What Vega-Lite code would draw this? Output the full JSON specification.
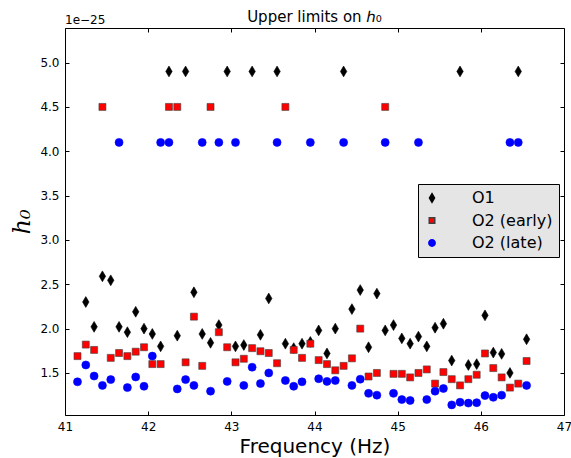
{
"$schema": "https://vega.github.io/schema/vega-lite/v6.json",
"width": 499, "height": 387,
"autosize": "none",
"padding": {"left": 65, "top": 28, "right": 7, "bottom": 43},
"background": "white",
"title": {"text": "Upper limits on ℎ₀", "font": "DejaVu Sans", "fontSize": 15, "fontWeight": "normal", "color": "#000000", "anchor": "middle", "offset": 7, "dy": 30, "baseline": "alphabetic"},
"config": {
  "view": {"stroke": null},
  "axis": {"domainColor": "#000000", "domainWidth": 1, "tickColor": "#000000", "tickWidth": 1, "grid": false, "labelFont": "DejaVu Sans", "labelFontSize": 12, "labelColor": "#000000", "labelOverlap": false, "labelFlush": false, "labelBound": false}
},
"data": {"values": [
{"f":41.25,"h":2.30,"s":"O1"},{"f":41.35,"h":2.02,"s":"O1"},{"f":41.45,"h":2.59,"s":"O1"},{"f":41.55,"h":2.545,"s":"O1"},{"f":41.65,"h":2.02,"s":"O1"},{"f":41.75,"h":1.96,"s":"O1"},{"f":41.85,"h":2.19,"s":"O1"},{"f":41.95,"h":2.00,"s":"O1"},{"f":42.05,"h":1.94,"s":"O1"},{"f":42.15,"h":1.80,"s":"O1"},{"f":42.25,"h":4.9,"s":"O1"},{"f":42.35,"h":1.92,"s":"O1"},{"f":42.45,"h":4.9,"s":"O1"},{"f":42.55,"h":2.41,"s":"O1"},{"f":42.65,"h":1.94,"s":"O1"},{"f":42.75,"h":1.84,"s":"O1"},{"f":42.85,"h":2.04,"s":"O1"},{"f":42.95,"h":4.9,"s":"O1"},{"f":43.05,"h":1.80,"s":"O1"},{"f":43.15,"h":1.815,"s":"O1"},{"f":43.25,"h":4.9,"s":"O1"},{"f":43.35,"h":1.93,"s":"O1"},{"f":43.45,"h":2.34,"s":"O1"},{"f":43.55,"h":4.9,"s":"O1"},{"f":43.65,"h":1.83,"s":"O1"},{"f":43.75,"h":1.78,"s":"O1"},{"f":43.85,"h":1.83,"s":"O1"},{"f":43.95,"h":1.85,"s":"O1"},{"f":44.05,"h":1.98,"s":"O1"},{"f":44.15,"h":1.72,"s":"O1"},{"f":44.25,"h":2.00,"s":"O1"},{"f":44.35,"h":4.9,"s":"O1"},{"f":44.45,"h":2.22,"s":"O1"},{"f":44.55,"h":2.435,"s":"O1"},{"f":44.65,"h":1.79,"s":"O1"},{"f":44.75,"h":2.395,"s":"O1"},{"f":44.85,"h":1.98,"s":"O1"},{"f":44.95,"h":2.04,"s":"O1"},{"f":45.05,"h":1.89,"s":"O1"},{"f":45.15,"h":1.83,"s":"O1"},{"f":45.25,"h":1.91,"s":"O1"},{"f":45.35,"h":1.80,"s":"O1"},{"f":45.45,"h":2.01,"s":"O1"},{"f":45.55,"h":2.055,"s":"O1"},{"f":45.65,"h":1.64,"s":"O1"},{"f":45.75,"h":4.9,"s":"O1"},{"f":45.85,"h":1.59,"s":"O1"},{"f":45.95,"h":1.60,"s":"O1"},{"f":46.05,"h":2.15,"s":"O1"},{"f":46.15,"h":1.73,"s":"O1"},{"f":46.25,"h":1.715,"s":"O1"},{"f":46.35,"h":1.50,"s":"O1"},{"f":46.45,"h":4.9,"s":"O1"},{"f":46.55,"h":1.88,"s":"O1"},
{"f":41.15,"h":1.69,"s":"O2 (early)"},{"f":41.25,"h":1.82,"s":"O2 (early)"},{"f":41.35,"h":1.76,"s":"O2 (early)"},{"f":41.45,"h":4.5,"s":"O2 (early)"},{"f":41.55,"h":1.67,"s":"O2 (early)"},{"f":41.65,"h":1.725,"s":"O2 (early)"},{"f":41.75,"h":1.69,"s":"O2 (early)"},{"f":41.85,"h":1.74,"s":"O2 (early)"},{"f":41.95,"h":1.79,"s":"O2 (early)"},{"f":42.05,"h":1.60,"s":"O2 (early)"},{"f":42.15,"h":1.60,"s":"O2 (early)"},{"f":42.25,"h":4.5,"s":"O2 (early)"},{"f":42.35,"h":4.5,"s":"O2 (early)"},{"f":42.45,"h":1.62,"s":"O2 (early)"},{"f":42.55,"h":2.135,"s":"O2 (early)"},{"f":42.65,"h":1.58,"s":"O2 (early)"},{"f":42.75,"h":4.5,"s":"O2 (early)"},{"f":42.85,"h":1.96,"s":"O2 (early)"},{"f":42.95,"h":1.79,"s":"O2 (early)"},{"f":43.05,"h":1.62,"s":"O2 (early)"},{"f":43.15,"h":1.66,"s":"O2 (early)"},{"f":43.25,"h":1.78,"s":"O2 (early)"},{"f":43.35,"h":1.745,"s":"O2 (early)"},{"f":43.45,"h":1.725,"s":"O2 (early)"},{"f":43.55,"h":1.61,"s":"O2 (early)"},{"f":43.65,"h":4.5,"s":"O2 (early)"},{"f":43.75,"h":1.76,"s":"O2 (early)"},{"f":43.85,"h":1.67,"s":"O2 (early)"},{"f":43.95,"h":1.83,"s":"O2 (early)"},{"f":44.05,"h":1.645,"s":"O2 (early)"},{"f":44.15,"h":1.60,"s":"O2 (early)"},{"f":44.25,"h":1.53,"s":"O2 (early)"},{"f":44.35,"h":1.58,"s":"O2 (early)"},{"f":44.45,"h":1.665,"s":"O2 (early)"},{"f":44.55,"h":2.00,"s":"O2 (early)"},{"f":44.65,"h":1.46,"s":"O2 (early)"},{"f":44.75,"h":1.50,"s":"O2 (early)"},{"f":44.85,"h":4.5,"s":"O2 (early)"},{"f":44.95,"h":1.49,"s":"O2 (early)"},{"f":45.05,"h":1.49,"s":"O2 (early)"},{"f":45.15,"h":1.45,"s":"O2 (early)"},{"f":45.25,"h":1.50,"s":"O2 (early)"},{"f":45.35,"h":1.54,"s":"O2 (early)"},{"f":45.45,"h":1.38,"s":"O2 (early)"},{"f":45.55,"h":1.51,"s":"O2 (early)"},{"f":45.65,"h":1.43,"s":"O2 (early)"},{"f":45.75,"h":1.36,"s":"O2 (early)"},{"f":45.85,"h":1.43,"s":"O2 (early)"},{"f":45.95,"h":1.48,"s":"O2 (early)"},{"f":46.05,"h":1.72,"s":"O2 (early)"},{"f":46.15,"h":1.555,"s":"O2 (early)"},{"f":46.25,"h":1.45,"s":"O2 (early)"},{"f":46.35,"h":1.335,"s":"O2 (early)"},{"f":46.45,"h":1.38,"s":"O2 (early)"},{"f":46.55,"h":1.635,"s":"O2 (early)"},
{"f":41.15,"h":1.40,"s":"O2 (late)"},{"f":41.25,"h":1.59,"s":"O2 (late)"},{"f":41.35,"h":1.465,"s":"O2 (late)"},{"f":41.45,"h":1.36,"s":"O2 (late)"},{"f":41.55,"h":1.425,"s":"O2 (late)"},{"f":41.65,"h":4.1,"s":"O2 (late)"},{"f":41.75,"h":1.335,"s":"O2 (late)"},{"f":41.85,"h":1.455,"s":"O2 (late)"},{"f":41.95,"h":1.35,"s":"O2 (late)"},{"f":42.05,"h":1.69,"s":"O2 (late)"},{"f":42.15,"h":4.1,"s":"O2 (late)"},{"f":42.25,"h":4.1,"s":"O2 (late)"},{"f":42.35,"h":1.32,"s":"O2 (late)"},{"f":42.45,"h":1.425,"s":"O2 (late)"},{"f":42.55,"h":1.36,"s":"O2 (late)"},{"f":42.65,"h":4.1,"s":"O2 (late)"},{"f":42.75,"h":1.295,"s":"O2 (late)"},{"f":42.85,"h":4.1,"s":"O2 (late)"},{"f":42.95,"h":1.405,"s":"O2 (late)"},{"f":43.05,"h":4.1,"s":"O2 (late)"},{"f":43.15,"h":1.36,"s":"O2 (late)"},{"f":43.25,"h":1.565,"s":"O2 (late)"},{"f":43.35,"h":1.38,"s":"O2 (late)"},{"f":43.45,"h":1.50,"s":"O2 (late)"},{"f":43.55,"h":4.1,"s":"O2 (late)"},{"f":43.65,"h":1.415,"s":"O2 (late)"},{"f":43.75,"h":1.35,"s":"O2 (late)"},{"f":43.85,"h":1.40,"s":"O2 (late)"},{"f":43.95,"h":4.1,"s":"O2 (late)"},{"f":44.05,"h":1.435,"s":"O2 (late)"},{"f":44.15,"h":1.405,"s":"O2 (late)"},{"f":44.25,"h":1.415,"s":"O2 (late)"},{"f":44.35,"h":4.1,"s":"O2 (late)"},{"f":44.45,"h":1.36,"s":"O2 (late)"},{"f":44.55,"h":1.43,"s":"O2 (late)"},{"f":44.65,"h":1.27,"s":"O2 (late)"},{"f":44.75,"h":1.25,"s":"O2 (late)"},{"f":44.85,"h":4.1,"s":"O2 (late)"},{"f":44.95,"h":1.27,"s":"O2 (late)"},{"f":45.05,"h":1.20,"s":"O2 (late)"},{"f":45.15,"h":1.19,"s":"O2 (late)"},{"f":45.25,"h":4.1,"s":"O2 (late)"},{"f":45.35,"h":1.20,"s":"O2 (late)"},{"f":45.45,"h":1.295,"s":"O2 (late)"},{"f":45.55,"h":1.325,"s":"O2 (late)"},{"f":45.65,"h":1.14,"s":"O2 (late)"},{"f":45.75,"h":1.17,"s":"O2 (late)"},{"f":45.85,"h":1.16,"s":"O2 (late)"},{"f":45.95,"h":1.165,"s":"O2 (late)"},{"f":46.05,"h":1.245,"s":"O2 (late)"},{"f":46.15,"h":1.225,"s":"O2 (late)"},{"f":46.25,"h":1.25,"s":"O2 (late)"},{"f":46.35,"h":4.1,"s":"O2 (late)"},{"f":46.45,"h":4.1,"s":"O2 (late)"},{"f":46.55,"h":1.36,"s":"O2 (late)"}
]},
"layer": [
  {
    "mark": {"type": "point", "filled": true, "opacity": 1, "strokeWidth": 0.6, "size": 64},
    "encoding": {
      "x": {"field": "f", "type": "quantitative", "scale": {"domain": [41, 47], "nice": false, "zero": false},
            "axis": {"orient": "bottom", "values": [41,42,43,44,45,46,47], "format": "d", "tickSize": -4, "labelPadding": 10,
                     "title": "Frequency (Hz)", "titleFont": "DejaVu Sans", "titleFontSize": 20, "titleFontWeight": "normal", "titleColor": "#000000", "titleY": 37, "titleBaseline": "alphabetic"}},
      "y": {"field": "h", "type": "quantitative", "scale": {"domain": [1.026, 5.39], "nice": false, "zero": false},
            "axis": {"orient": "left", "values": [1.5,2,2.5,3,3.5,4,4.5,5], "format": ".1f", "tickSize": -4, "labelPadding": 10,
                     "title": "h₀", "titleFont": "DejaVu Serif", "titleFontStyle": "italic", "titleFontSize": 24, "titleFontWeight": "normal", "titleColor": "#000000", "titleX": -36, "titleY": 193.5, "titleAngle": -90, "titleAlign": "center", "titleBaseline": "alphabetic"}},
      "color": {"field": "s", "type": "nominal", "title": null,
                "scale": {"domain": ["O1", "O2 (early)", "O2 (late)"], "range": ["#000000", "#ff0000", "#0000ff"]},
                "legend": {"orient": "none", "legendX": 353, "legendY": 156, "fillColor": "#e5e5e5", "strokeColor": "#000000", "padding": 6, "labelFont": "DejaVu Sans", "labelFontSize": 16, "labelColor": "#000000", "labelOffset": 32, "rowPadding": 6.5, "symbolOpacity": 1, "symbolSize": 40}},
      "shape": {"field": "s", "type": "nominal", "title": null,
                "scale": {"domain": ["O1", "O2 (early)", "O2 (late)"], "range": ["M0,-1.35L0.8,0L0,1.35L-0.8,0Z", "M-0.875,-0.875L0.875,-0.875L0.875,0.875L-0.875,0.875Z", "circle"]}},
      "stroke": {"field": "s", "type": "nominal", "title": null,
                 "scale": {"domain": ["O1", "O2 (early)", "O2 (late)"], "range": ["#000000", "#404040", "#0000ff"]}}
    }
  },
  {
    "mark": {"type": "point", "opacity": 0},
    "encoding": {
      "x": {"field": "f", "type": "quantitative", "axis": {"orient": "top", "values": [41,42,43,44,45,46,47], "labels": false, "tickSize": -4, "title": null}},
      "y": {"field": "h", "type": "quantitative", "axis": {"orient": "right", "values": [1.5,2,2.5,3,3.5,4,4.5,5], "labels": false, "tickSize": -4, "title": null}}
    }
  },
  {
    "data": {"values": [{"f": 41, "h": 5.39, "label": "1e−25"}]},
    "mark": {"type": "text", "align": "left", "baseline": "alphabetic", "dy": -4, "font": "DejaVu Sans", "fontSize": 12, "color": "#000000"},
    "encoding": {
      "x": {"field": "f", "type": "quantitative", "axis": null},
      "y": {"field": "h", "type": "quantitative", "axis": null},
      "text": {"field": "label"}
    }
  }
],
"resolve": {"axis": {"x": "independent", "y": "independent"}}
}
